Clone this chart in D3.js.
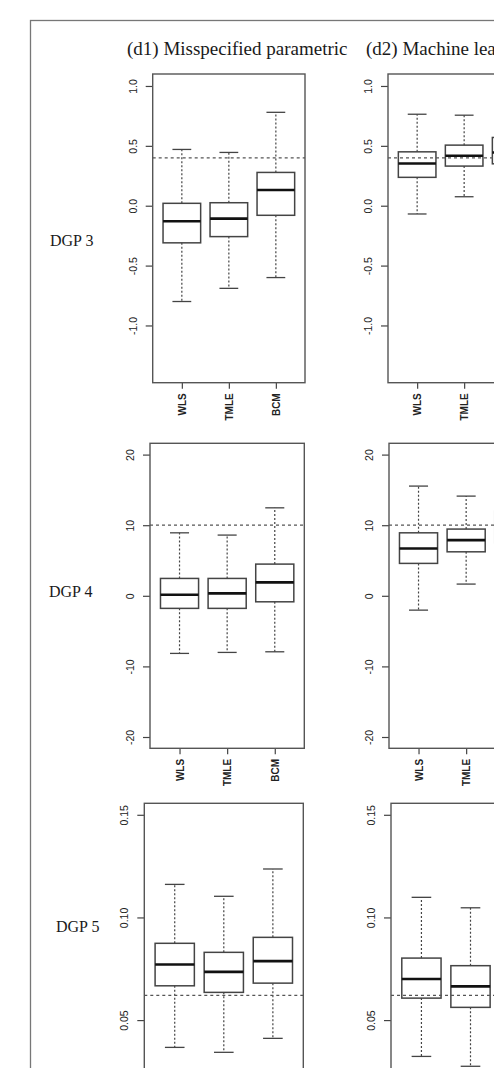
<!DOCTYPE html>
<html>
<head>
<meta charset="utf-8">
<script src="https://cdn.jsdelivr.net/npm/d3@7"></script>
<style>
  body { margin: 0; background: #fff; }
  svg { display: block; }
</style>
</head>
<body>
<svg id="fig" width="494" height="1068"></svg>
<script>

var methods = ["WLS", "TMLE", "BCM"];
var columnTitles = ["(d1) Misspecified parametric", "(d2) Machine learning"];
var rowLabels = ["DGP 3", "DGP 4", "DGP 5"];
var truth = [0.4, 10, 0.062];
var yTicks = [[-1.0, -0.5, 0.0, 0.5, 1.0], [-20, -10, 0, 10, 20], [0.05, 0.10, 0.15]];
var yDecimals = [1, 0, 2];
var yDomains = [[-1.478, 1.1], [-21.6, 21.6], [0.0044, 0.1556]];

// box stats per method: [lower whisker, q1, median, q3, upper whisker]
var dgp3Param = [[-0.80, -0.31, -0.13, 0.02, 0.47],
                 [-0.69, -0.258, -0.108, 0.025, 0.445],
                 [-0.60, -0.08, 0.131, 0.278, 0.78]];
var dgp3ML    = [[-0.069, 0.237, 0.353, 0.45, 0.764],
                 [0.075, 0.331, 0.417, 0.506, 0.756],
                 [0.05, 0.35, 0.445, 0.57, 0.90]];
var dgp4Param = [[-8.16, -1.78, 0.14, 2.46, 8.92],
                 [-8.02, -1.78, 0.34, 2.46, 8.6],
                 [-7.93, -0.85, 1.9, 4.49, 12.46]];
var dgp4ML    = [[-2.03, 4.59, 6.71, 8.92, 15.54],
                 [1.66, 6.23, 7.89, 9.45, 14.12],
                 [2.0, 7.5, 9.5, 12.0, 18.0]];
var dgp5Param = [[0.0367, 0.0667, 0.0771, 0.0874, 0.1161],
                 [0.0343, 0.0635, 0.0735, 0.083, 0.1103],
                 [0.0411, 0.068, 0.0787, 0.0903, 0.1236]];
var dgp5ML    = [[0.0323, 0.0607, 0.070, 0.0802, 0.1098],
                 [0.0275, 0.0562, 0.0664, 0.0765, 0.1047],
                 [0.030, 0.055, 0.064, 0.074, 0.100]];

var panelStats = [[dgp3Param, dgp3ML], [dgp4Param, dgp4ML], [dgp5Param, dgp5ML]];

// layout (scanned figure, panels drift a little from row to row)
var panelLeft = [[152.7, 388], [150, 389], [144.3, 391]];
var panelWidth = [152.3, 154.3, 159];
var panelTop = [74, 443.3, 803.3];
var panelHeight = [308.7, 305, 310.4];
var rowLabelPos = [[50, 246], [49, 597], [56, 932]];
var titleX = [127, 366];

var svg = d3.select("#fig");

// outer frame of the figure, cut off at right and bottom
svg.append("rect")
    .attr("x", 30.5).attr("y", 20.5)
    .attr("width", 700).attr("height", 1200)
    .attr("fill", "none")
    .attr("stroke", "#777")
    .attr("stroke-width", 1.3);

columnTitles.forEach(function(t, c) {
  svg.append("text")
      .attr("x", titleX[c]).attr("y", 55)
      .attr("font-family", "Liberation Serif, Times New Roman, serif")
      .attr("font-size", 19)
      .attr("fill", "#1a1a1a")
      .text(t);
});

rowLabels.forEach(function(t, r) {
  svg.append("text")
      .attr("x", rowLabelPos[r][0]).attr("y", rowLabelPos[r][1])
      .attr("font-family", "Liberation Serif, Times New Roman, serif")
      .attr("font-size", 16)
      .attr("fill", "#1a1a1a")
      .text(t);
});

panelStats.forEach(function(row, r) {
  row.forEach(function(stats, c) {
    var w = panelWidth[r], h = panelHeight[r];
    var g = svg.append("g")
        .attr("transform", "translate(" + panelLeft[r][c] + "," + panelTop[r] + ")");

    var x = d3.scaleLinear().domain([0.38, 3.62]).range([0, w]);
    var y = d3.scaleLinear().domain(yDomains[r]).range([h, 0]);

    // y axis, labels turned like R's default
    var ya = g.append("g")
        .call(d3.axisLeft(y)
          .tickValues(yTicks[r])
          .tickSizeInner(7).tickSizeOuter(0)
          .tickFormat(function(d) { return d.toFixed(yDecimals[r]); }));
    ya.select(".domain").remove();
    ya.selectAll("line").attr("stroke", "#444").attr("stroke-width", 1.2);
    ya.selectAll("text")
        .attr("transform", "rotate(-90)")
        .attr("x", 0).attr("y", -16).attr("dy", 0)
        .attr("text-anchor", "middle")
        .attr("font-family", "Liberation Sans, Arial, sans-serif")
        .attr("font-size", 10.5)
        .attr("fill", "#222");

    var xa = g.append("g")
        .attr("transform", "translate(0," + h + ")")
        .call(d3.axisBottom(x)
          .tickValues([1, 2, 3])
          .tickSizeInner(6).tickSizeOuter(0)
          .tickFormat(function(d) { return methods[d - 1]; }));
    xa.select(".domain").remove();
    xa.selectAll("line").attr("stroke", "#444").attr("stroke-width", 1.2);
    xa.selectAll("text")
        .attr("transform", "rotate(-90)")
        .attr("x", -10.6).attr("y", 0).attr("dy", "0.35em")
        .attr("text-anchor", "end")
        .attr("font-family", "Liberation Sans, Arial, sans-serif")
        .attr("font-weight", "bold")
        .attr("font-size", 10)
        .attr("fill", "#222");

    var box = g.selectAll(".box")
        .data(stats)
      .enter().append("g")
        .attr("class", "box");

    // dotted whiskers
    box.append("line")
        .attr("x1", function(d, i) { return x(i + 1); })
        .attr("x2", function(d, i) { return x(i + 1); })
        .attr("y1", function(d) { return y(d[3]); })
        .attr("y2", function(d) { return y(d[4]); })
        .attr("stroke", "#444").attr("stroke-width", 1.2)
        .attr("stroke-dasharray", "2,2");
    box.append("line")
        .attr("x1", function(d, i) { return x(i + 1); })
        .attr("x2", function(d, i) { return x(i + 1); })
        .attr("y1", function(d) { return y(d[1]); })
        .attr("y2", function(d) { return y(d[0]); })
        .attr("stroke", "#444").attr("stroke-width", 1.2)
        .attr("stroke-dasharray", "2,2");

    // staples
    [0, 4].forEach(function(k) {
      box.append("line")
          .attr("x1", function(d, i) { return x(i + 0.8); })
          .attr("x2", function(d, i) { return x(i + 1.2); })
          .attr("y1", function(d) { return y(d[k]); })
          .attr("y2", function(d) { return y(d[k]); })
          .attr("stroke", "#444").attr("stroke-width", 1.3);
    });

    box.append("rect")
        .attr("x", function(d, i) { return x(i + 0.6); })
        .attr("width", function(d, i) { return x(i + 1.4) - x(i + 0.6); })
        .attr("y", function(d) { return y(d[3]); })
        .attr("height", function(d) { return y(d[1]) - y(d[3]); })
        .attr("fill", "none")
        .attr("stroke", "#444").attr("stroke-width", 1.5);

    box.append("line")
        .attr("x1", function(d, i) { return x(i + 0.6); })
        .attr("x2", function(d, i) { return x(i + 1.4); })
        .attr("y1", function(d) { return y(d[2]); })
        .attr("y2", function(d) { return y(d[2]); })
        .attr("stroke", "#111").attr("stroke-width", 2.6);

    // true value
    g.append("line")
        .attr("x1", 0).attr("x2", w)
        .attr("y1", y(truth[r])).attr("y2", y(truth[r]))
        .attr("stroke", "#555").attr("stroke-width", 1.2)
        .attr("stroke-dasharray", "3,3");

    g.append("rect")
        .attr("width", w).attr("height", h)
        .attr("fill", "none")
        .attr("stroke", "#555").attr("stroke-width", 1.4);
  });
});

</script>
</body>
</html>
